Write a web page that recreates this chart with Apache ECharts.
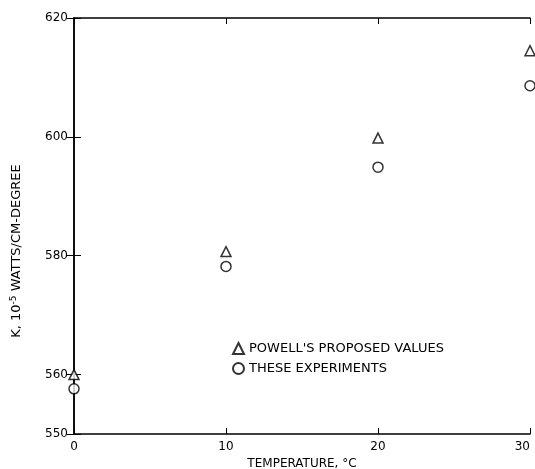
<!DOCTYPE html>
<html>
<head>
<meta charset="utf-8">
<script src="https://cdn.jsdelivr.net/npm/echarts@6/dist/echarts.min.js"></script>
<style>
  html, body { margin: 0; padding: 0; background: #fff; }
  #chart { width: 535px; height: 469px; }
</style>
</head>
<body>
<div id="chart"></div>
<script>
// temperature, deg C
var temps = [0, 10, 20, 30];
// conductivity, 10^-5 watts/cm-degree
var powellValues = [560.0, 580.7, 599.8, 614.5];
var experiments = [557.6, 578.2, 594.9, 608.6];
var yTicks = [550, 560, 580, 600, 620];

var font = 'DejaVu Sans';

function pairs(xs, ys) {
    var out = [];
    for (var i = 0; i < xs.length; i++) {
        out.push([xs[i], ys[i]]);
    }
    return out;
}

var myChart = echarts.init(document.getElementById('chart'));

var option = {
    animation: false,
    backgroundColor: '#fff',
    textStyle: { fontFamily: font, color: '#000' },
    grid: { left: 74, right: 5, top: 18, bottom: 35, outerBoundsMode: 'none', containLabel: false },
    legend: {
        orient: 'vertical',
        left: 227,
        top: 337,
        itemWidth: 11,
        itemHeight: 11,
        itemGap: 7,
        selectedMode: false,
        textStyle: { fontFamily: font, fontSize: 13, color: '#000' },
        data: ["POWELL'S PROPOSED VALUES", 'THESE EXPERIMENTS']
    },
    xAxis: [{
        type: 'value',
        min: 0,
        max: 30,
        interval: 10,
        name: 'TEMPERATURE, °C',
        nameLocation: 'middle',
        nameGap: 22,
        nameTextStyle: { fontSize: 12, color: '#000' },
        axisLine: { lineStyle: { color: '#000', width: 1.5 } },
        axisTick: { inside: true, length: 6, lineStyle: { color: '#000' } },
        axisLabel: { fontSize: 12, color: '#000', margin: 7, alignMaxLabel: 'right' },
        splitLine: { show: false }
    }, {
        type: 'value',
        position: 'top',
        min: 0,
        max: 30,
        interval: 10,
        axisLine: { lineStyle: { color: '#000', width: 1.5 } },
        axisTick: { inside: true, length: 6, lineStyle: { color: '#000' } },
        axisLabel: { show: false },
        splitLine: { show: false }
    }],
    yAxis: [{
        type: 'value',
        min: 550,
        max: 620,
        name: '{n|K, 10}{s|-5}{n| WATTS/CM-DEGREE}',
        nameLocation: 'middle',
        nameGap: 50,
        nameTextStyle: {
            padding: [0, 50, 0, 0],
            rich: {
                n: { fontSize: 13, fontFamily: font, color: '#000' },
                s: { fontSize: 9, fontFamily: font, color: '#000', verticalAlign: 'top', padding: [0, 0, 6, 0] }
            }
        },
        axisLine: { lineStyle: { color: '#000', width: 1.5 } },
        axisTick: { inside: true, length: 7, customValues: yTicks, lineStyle: { color: '#000' } },
        axisLabel: { fontSize: 12, color: '#000', margin: 6, customValues: yTicks },
        splitLine: { show: false }
    }, {
        type: 'value',
        position: 'right',
        min: 550,
        max: 620,
        axisLine: { show: true, lineStyle: { color: '#000', width: 1.5 } },
        axisTick: { show: true, inside: true, length: 7, customValues: yTicks, lineStyle: { color: '#000' } },
        axisLabel: { show: false },
        splitLine: { show: false }
    }],
    series: [{
        name: "POWELL'S PROPOSED VALUES",
        type: 'scatter',
        clip: false,
        symbol: 'triangle',
        symbolSize: 10,
        itemStyle: { color: '#fff', borderColor: '#000', borderWidth: 1.5 },
        data: pairs(temps, powellValues)
    }, {
        name: 'THESE EXPERIMENTS',
        type: 'scatter',
        clip: false,
        symbol: 'circle',
        symbolSize: 10,
        itemStyle: { color: '#fff', borderColor: '#000', borderWidth: 1.5 },
        data: pairs(temps, experiments)
    }]
};

myChart.setOption(option);
</script>
</body>
</html>
